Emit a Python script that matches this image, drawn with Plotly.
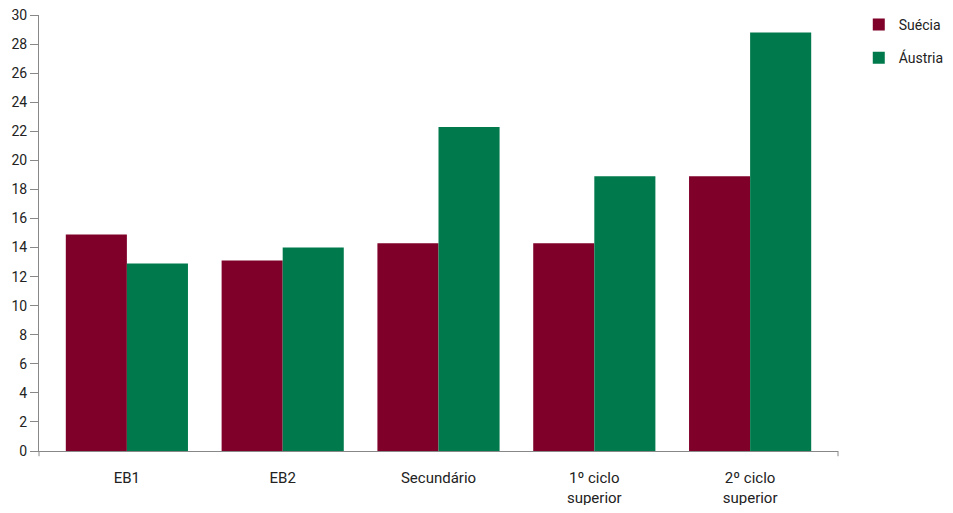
import plotly.graph_objects as go

categories = ["EB1", "EB2", "Secundário", "1º ciclo<br>superior", "2º ciclo<br>superior"]
suecia = [14.9, 13.1, 14.3, 14.3, 18.9]
austria = [12.9, 14.0, 22.3, 18.9, 28.8]
y_ticks = list(range(0, 31, 2))

fig = go.Figure()
fig.add_trace(go.Bar(x=categories, y=suecia, name="Suécia", marker_color="#7F0029",
                     marker_line_width=0, legendgroup="a"))
fig.add_trace(go.Bar(x=categories, y=austria, name="Áustria", marker_color="#007A4C",
                     marker_line_width=0, legendgroup="b"))

pad = 0.064
fig.update_layout(
    width=937, height=497,
    margin=dict(l=31, r=107, t=7, b=54, autoexpand=False),
    paper_bgcolor="white", plot_bgcolor="white",
    barmode="group", bargap=0.216, bargroupgap=0,
    font=dict(family="Roboto, sans-serif", size=15, color="#222"),
    showlegend=True,
    legend=dict(x=1.026, y=1.014, xanchor="left", yanchor="top",
                font=dict(size=14, color="#222"), tracegroupgap=12,
                traceorder="grouped", itemwidth=30),
    xaxis=dict(showline=True, linecolor="#888", linewidth=1, ticks="",
               showgrid=False, zeroline=False, tickfont=dict(size=15),
               range=[-0.5 - pad, len(categories) - 0.5 + pad],
               automargin=False, ticklabelstandoff=13),
    yaxis=dict(range=[0, 30], tickvals=y_ticks, showline=True, linecolor="#888",
               linewidth=1, ticks="outside", ticklen=8, tickcolor="#888",
               showgrid=False, zeroline=False, tickfont=dict(size=14),
               automargin=False, ticklabeloverflow="allow"),
)
for xp in (0, 1):
    fig.add_shape(type="line", xref="paper", yref="paper", x0=xp, x1=xp, y0=0, y1=-0.012,
                  line=dict(color="#888", width=1))

fig.write_html("out.html")
